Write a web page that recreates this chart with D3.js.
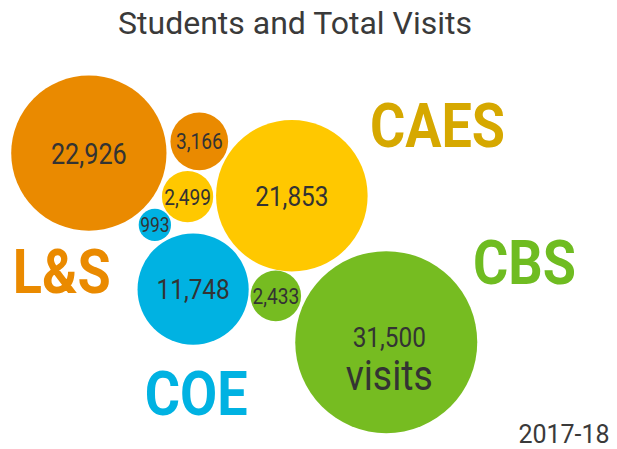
<!DOCTYPE html>
<html>
<head>
<meta charset="utf-8">
<script src="https://cdn.jsdelivr.net/npm/d3@7"></script>
<style>
  body { margin: 0; background: #fff; }
  svg text { font-family: Roboto, "Noto Sans", sans-serif; }
</style>
</head>
<body>
<svg id="chart"></svg>
<script>
// data
const colleges = ["L&S", "CAES", "COE", "CBS"];
const visits = [22926, 21853, 11748, 31500];
const students = [3166, 2499, 993, 2433];
const collegeColors = ["#ea8a00", "#ffc800", "#00b2e2", "#76bc21"];
const labelColors = ["#ea8a00", "#d6a800", "#00b2e2", "#6fbc21"];

// layout in 0-100 units (bubble chart has no axes)
const visitX = [14.4, 47.3, 31.3, 62.6];
const visitY = [34.1, 43.6, 64.4, 76.2];
const studentX = [32.3, 30.4, 25.1, 44.7];
const studentY = [31.5, 43.8, 50.1, 65.9];
const labelX = [10.0, 70.9, 31.8, 85.0];
const labelY = [65.2, 32.7, 92.4, 63.2];

const title = "Students and Total Visits";
const yearLabel = "2017-18";

let width = 617, height = 449;
let squish = 0.87; // reference uses a condensed face

let svg = d3.select('#chart').attr('width', width).attr('height', height);

let x = d3.scaleLinear().domain([0, 100]).range([0, width]);
let y = d3.scaleLinear().domain([0, 100]).range([0, height]);
let r = d3.scaleSqrt().domain([0, 31500]).range([0, 91]);
let fmt = d3.format(",");

let bubbles = [];
colleges.forEach((c, i) => {
  bubbles.push({ college: c, value: visits[i], cx: visitX[i], cy: visitY[i], color: collegeColors[i], big: true });
  bubbles.push({ college: c, value: students[i], cx: studentX[i], cy: studentY[i], color: collegeColors[i], big: false });
});

svg.append('g')
  .selectAll('circle')
  .data(bubbles)
  .enter()
  .append('circle')
  .attr('cx', d => x(d.cx))
  .attr('cy', d => y(d.cy))
  .attr('r', d => r(d.value))
  .attr('fill', d => d.color);

// condensed text helper
function condText(g, tx, ty, str, size, weight, fill, sx) {
  return g.append('text')
    .attr('transform', `translate(${tx},${ty}) scale(${sx || squish},1)`)
    .attr('text-anchor', 'middle')
    .style('font-size', size + 'px')
    .style('font-weight', weight)
    .attr('fill', fill)
    .text(str);
}

let labels = svg.append('g');
bubbles.forEach(d => {
  let size = d.big ? 28 : (d.value < 1000 ? 20 : 22);
  if (d.college === "L&S" && d.big) size = 29;
  let cx = x(d.cx), cy = y(d.cy);
  if (d.college === "CBS" && d.big) {
    condText(labels, cx + 3, cy + 5, fmt(d.value), size, 400, '#333');
    condText(labels, cx + 3, cy + 48, 'visits', 43, 400, '#333');
  } else {
    condText(labels, cx, cy + size * 0.36, fmt(d.value), size, 400, '#333');
  }
});

colleges.forEach((c, i) => {
  condText(labels, x(labelX[i]), y(labelY[i]), c, 62, 700, labelColors[i]);
});

condText(svg, 295, 34, title, 32, 400, '#3a3a3a', 1);
condText(svg, 564, 443, yearLabel, 25, 400, '#3a3a3a', 1);
</script>
</body>
</html>
